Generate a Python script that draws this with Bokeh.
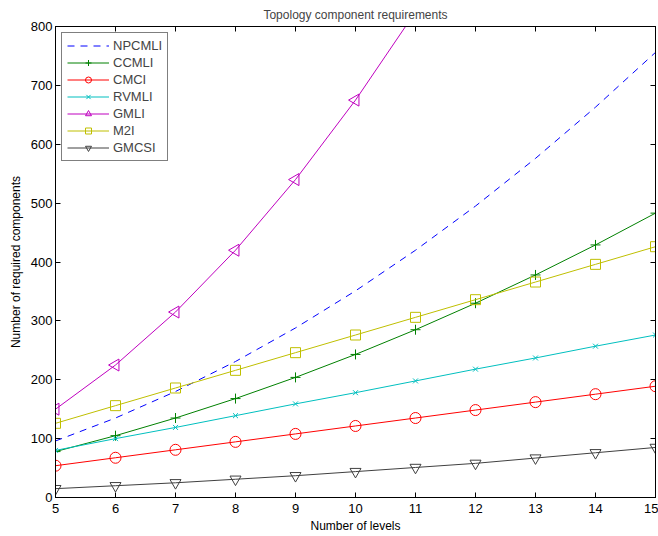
import math
from bokeh.plotting import figure
from bokeh.models import LinearAxis, FixedTicker, Range1d, CustomJSTickFormatter, Legend, LegendItem, ColumnDataSource
from bokeh.embed import file_html
from bokeh.resources import INLINE

levels = [5, 6, 7, 8, 9, 10, 11, 12, 13, 14, 15]
npcmli = [96, 135, 180, 231, 288, 351, 420, 495, 576, 663, 756]
ccmli = [78, 105, 135, 168, 204, 243, 285, 330, 378, 429, 483]
cmci = [54, 67.5, 81, 94.5, 108, 121.5, 135, 148.5, 162, 175.5, 189]
rvmli = [80, 100, 119, 139, 159, 178, 198, 218, 237, 257, 276]
gmli = [150, 225, 315, 420, 540, 675, 825, 990, 1170, 1365, 1575]
m2i = [126, 156, 186, 216, 246, 276, 306, 336, 366, 396, 426]
gmcsi = [15, 20, 25, 31, 37, 44, 51, 58, 67, 76, 85]
x_ticks = list(range(5, 16))
y_ticks = list(range(0, 801, 100))

FONT = "Liberation Sans"

p = figure(width=658, height=536, output_backend="svg", toolbar_location=None,
           x_range=Range1d(5, 15), y_range=Range1d(0, 800),
           title="Topology component requirements",
           min_border_left=55, min_border_right=3, min_border_top=10, min_border_bottom=39)
p.title.align = "center"
p.title.text_font = FONT
p.title.text_font_style = "normal"
p.title.text_font_size = "12px"
p.grid.visible = False
p.outline_line_color = "black"

for ax in (p.xaxis[0], p.yaxis[0]):
    ax.major_tick_in = 5
    ax.major_tick_out = 0
    ax.minor_tick_in = 0
    ax.minor_tick_out = 0
    ax.major_label_text_font = FONT
    ax.major_label_text_font_size = "13px"
    ax.major_label_text_color = "black"
    ax.axis_label_text_font = FONT
    ax.axis_label_text_font_size = "12px"
    ax.axis_label_text_font_style = "normal"
    ax.axis_label_text_color = "black"
    ax.axis_line_color = "black"
    ax.major_tick_line_color = "black"
p.xaxis[0].ticker = FixedTicker(ticks=x_ticks)
p.yaxis[0].ticker = FixedTicker(ticks=y_ticks)
p.xaxis[0].axis_label = "Number of levels"
p.yaxis[0].axis_label = "Number of required components"
p.xaxis[0].major_label_standoff = 6
p.xaxis[0].axis_label_standoff = 3
p.yaxis[0].major_label_standoff = 3

for loc, tk in (("right", y_ticks), ("above", x_ticks)):
    ax = LinearAxis(ticker=FixedTicker(ticks=tk),
                    formatter=CustomJSTickFormatter(code="return ''"),
                    major_tick_in=5, major_tick_out=0, minor_tick_in=0, minor_tick_out=0,
                    major_label_standoff=0, axis_line_color="black", major_tick_line_color="black")
    p.add_layout(ax, loc)

series = [
    ("NPCMLI", npcmli, "#0000ff", None, 0),
    ("CCMLI", ccmli, "#008000", "cross", 10),
    ("CMCI", cmci, "#ff0000", "circle", 11),
    ("RVMLI", rvmli, "#00bfbf", "x", 7),
    ("GMLI", gmli, "#bf00bf", "triangle", 12),
    ("M2I", m2i, "#bfbf00", "square", 10),
    ("GMCSI", gmcsi, "#404040", "inverted_triangle", 11),
]

items = []
for name, vals, col, mk, sz in series:
    src = ColumnDataSource(dict(x=levels, y=vals, c=[col] * len(levels)))
    if mk is None:
        r = p.line("x", "y", source=src, line_color=col, line_width=1, line_dash="7 6")
        items.append(LegendItem(label=name, renderers=[r]))
    else:
        r1 = p.line("x", "y", source=src, line_color=col, line_width=1)
        kw = dict(marker=mk, size=sz, line_color="c", fill_color=None, line_width=1)
        if mk == "triangle":
            kw["angle"] = math.pi / 2
        r2 = p.scatter("x", "y", source=src, **kw)
        items.append(LegendItem(label=name, renderers=[r1, r2]))

legend = Legend(items=items, location="top_left")
legend.label_text_font = FONT
legend.label_text_font_size = "13px"
legend.glyph_width = 42
legend.glyph_height = 15
legend.label_height = 15
legend.spacing = 2
legend.padding = 5
legend.margin = 6
legend.label_standoff = 4
legend.border_line_color = "black"
p.add_layout(legend)

open("out.html", "w").write(file_html(p, INLINE))
